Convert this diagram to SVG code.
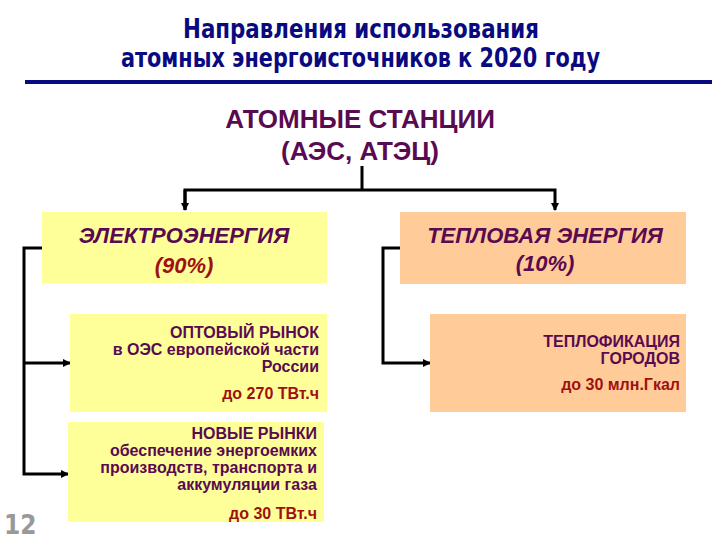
<svg xmlns="http://www.w3.org/2000/svg" width="720" height="540" viewBox="0 0 720 540">
<style>
.t{font-family:"DejaVu Sans Condensed","Liberation Sans",sans-serif;font-stretch:condensed;font-weight:bold;fill:#0a0a80;font-size:26px}
.h{font-family:"Liberation Sans",Arial,sans-serif;font-weight:bold;fill:#5a0a50}
.r{font-family:"Liberation Sans",Arial,sans-serif;font-weight:bold;fill:#a01010}
.y{fill:#ffff99}.o{fill:#ffcc99}
.c{fill:none;stroke:#000;stroke-width:3}
</style>
<defs><marker id="a" markerWidth="8" markerHeight="8" refX="7" refY="4" orient="auto" markerUnits="userSpaceOnUse"><path d="M0,0 L8,4 L0,8 Z" fill="#000"/></marker></defs>
<rect width="720" height="540" fill="#fff"/>
<g id="title">
<text class="t" x="183" y="38" textLength="356" lengthAdjust="spacingAndGlyphs">Направления использования</text>
<text class="t" x="121" y="67" textLength="479" lengthAdjust="spacingAndGlyphs">атомных энергоисточников к 2020 году</text>
<line x1="25" y1="82" x2="712" y2="82" stroke="#0a0a80" stroke-width="4"/>
</g>
<g id="root"><text class="h" font-size="26" text-anchor="middle" x="360" y="128">АТОМНЫЕ СТАНЦИИ</text>
<text class="h" font-size="26" text-anchor="middle" x="360" y="160">(АЭС, АТЭЦ)</text></g>
<g id="connectors">
<path class="c" d="M362,166 V190 M185,210 V190 H555 V210" marker-end="url(#a)"/>
<path class="c" d="M185,190 V210" marker-end="url(#a)"/>
<path class="c" d="M42,248 H24 V474 H68" marker-end="url(#a)"/>
<path class="c" d="M24,363 H70" marker-end="url(#a)"/>
<path class="c" d="M400,248 H383 V363 H430" marker-end="url(#a)"/>
</g>
<g id="elec"><rect class="y" x="42" y="212" width="285" height="71"/>
<text class="h" font-size="22" font-style="italic" text-anchor="middle" x="184" y="243">ЭЛЕКТРОЭНЕРГИЯ</text>
<text class="r" font-size="22" font-style="italic" text-anchor="middle" x="184" y="273">(90%)</text></g>
<g id="heat"><rect class="o" x="400" y="212" width="286" height="72"/>
<text class="h" font-size="22" font-style="italic" text-anchor="middle" x="545" y="243">ТЕПЛОВАЯ ЭНЕРГИЯ</text>
<text class="h" font-size="22" font-style="italic" text-anchor="middle" x="545" y="271">(10%)</text></g>
<g id="opt"><rect class="y" x="70" y="314" width="257" height="98"/>
<g text-anchor="end"><text class="h" font-size="16" x="319" y="338">ОПТОВЫЙ РЫНОК</text>
<text class="h" font-size="16" x="319" y="355">в ОЭС европейской части</text>
<text class="h" font-size="16" x="319" y="372">России</text>
<text class="r" font-size="16" x="319" y="399">до 270 ТВт.ч</text></g></g>
<g id="new"><rect class="y" x="68" y="422" width="256" height="100"/>
<g text-anchor="end"><text class="h" font-size="16" x="317" y="439">НОВЫЕ РЫНКИ</text>
<text class="h" font-size="16" x="317" y="456">обеспечение энергоемких</text>
<text class="h" font-size="16" x="317" y="473">производств, транспорта и</text>
<text class="h" font-size="16" x="317" y="490">аккумуляции газа</text>
<text class="r" font-size="16" x="317" y="519">до 30 ТВт.ч</text></g></g>
<g id="city"><rect class="o" x="430" y="314" width="256" height="98"/>
<g text-anchor="end"><text class="h" font-size="16" x="680" y="347">ТЕПЛОФИКАЦИЯ</text>
<text class="h" font-size="16" x="680" y="364">ГОРОДОВ</text>
<text class="r" font-size="16" x="680" y="390">до 30 млн.Гкал</text></g></g>
<text x="4" y="534" font-family="DejaVu Sans Condensed,sans-serif" font-stretch="condensed" font-weight="bold" font-size="26" fill="#999">12</text>
</svg>
